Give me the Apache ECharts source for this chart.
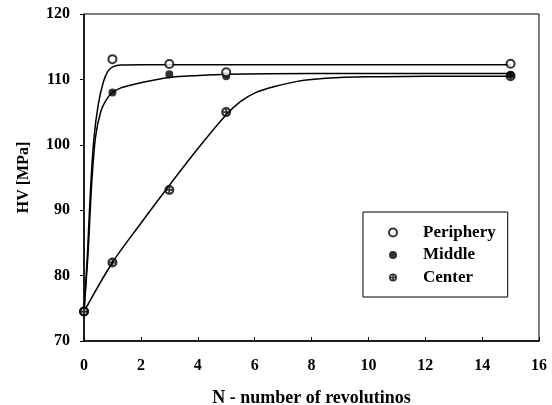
<!DOCTYPE html>
<html>
<head>
<meta charset="utf-8">
<script src="https://cdn.jsdelivr.net/npm/echarts@6/dist/echarts.min.js"></script>
<style>
html,body{margin:0;padding:0;background:#fff;}
#chart{width:552px;height:405px;}
</style>
</head>
<body>
<div id="chart"></div>
<script>
// Measured points
const revolutions = [0, 1, 3, 5, 15];
const periphery = [74.5, 113.1, 112.35, 111.1, 112.4];
const middle = [74.5, 108.0, 110.8, 110.5, 110.7];
const center = [74.5, 82.0, 93.1, 105.0, 110.5];

// Fitted curves as [N, HV] pairs
const peripheryFitX = [0, 0.12, 0.23, 0.35, 0.5, 0.68, 0.85, 1.03, 1.3, 2, 15];
const peripheryFitY = [74.5, 83.2, 93.3, 101.0, 106.1, 109.6, 111.3, 111.95, 112.2, 112.25, 112.25];
const middleFitX = [0, 0.14, 0.26, 0.4, 0.59, 0.8, 1, 1.3, 1.62, 2, 3, 4, 5, 8, 15];
const middleFitY = [74.5, 83.2, 93.3, 101.0, 105.1, 107.0, 108.0, 108.7, 109.1, 109.5, 110.3, 110.6, 110.8, 110.9, 110.9];
const centerFitX = [0, 1, 2, 3, 4, 5, 5.5, 6, 6.7, 7.5, 8, 9, 10, 12, 15];
const centerFitY = [74.5, 82.0, 88.0, 93.8, 99.4, 104.6, 106.6, 107.9, 108.9, 109.7, 110.0, 110.3, 110.4, 110.5, 110.5];

const xTicks = {min: 0, max: 16, interval: 2};
const yTicks = {min: 70, max: 120, interval: 10};
const seriesNames = ['Periphery', 'Middle', 'Center'];

function pairs(xs, ys) { return xs.map((x, i) => [x, ys[i]]); }

const crossCircle = 'path://M0,5 A5,5 0 1,1 10,5 A5,5 0 1,1 0,5 Z M2.2,5 A2.8,2.8 0 1,0 7.8,5 A2.8,2.8 0 1,0 2.2,5 Z M1.5,4.1 H8.5 V5.9 H1.5 Z M4.1,1.5 H5.9 V8.5 H4.1 Z';

const fontFam = '"Liberation Serif", "Times New Roman", serif';
const chart = echarts.init(document.getElementById('chart'), null, {renderer: 'canvas'});

function fitSeries(name, xs, ys) {
  return {
    name: name, type: 'line', data: pairs(xs, ys),
    smooth: 0.3, showSymbol: false, symbol: 'none',
    lineStyle: {color: '#000', width: 1.5}, z: 2, silent: true
  };
}

chart.setOption({
  animation: false,
  backgroundColor: '#fff',
  grid: {left: 84, right: 13, top: 14, bottom: 64, show: true, borderColor: '#000', borderWidth: 1,
         containLabel: false, outerBoundsMode: 'none'},
  xAxis: {
    type: 'value', min: xTicks.min, max: xTicks.max, interval: xTicks.interval,
    name: 'N - number of revolutinos', nameLocation: 'middle', nameGap: 48,
    nameTextStyle: {fontFamily: fontFam, fontWeight: 'bold', fontSize: 18, color: '#000'},
    axisLine: {lineStyle: {color: '#000', width: 1.5}},
    axisTick: {inside: true, length: 4, lineStyle: {color: '#000'}},
    axisLabel: {fontFamily: fontFam, fontWeight: 'bold', fontSize: 16, color: '#000', margin: 17},
    splitLine: {show: false}
  },
  yAxis: {
    type: 'value', min: yTicks.min, max: yTicks.max, interval: yTicks.interval,
    name: 'HV [MPa]', nameLocation: 'middle', nameGap: 52,
    nameTextStyle: {fontFamily: fontFam, fontWeight: 'bold', fontSize: 16, color: '#000'},
    axisLine: {show: true, lineStyle: {color: '#000', width: 1.5}},
    axisTick: {show: true, inside: false, length: 4, lineStyle: {color: '#000'}},
    axisLabel: {fontFamily: fontFam, fontWeight: 'bold', fontSize: 16, color: '#000', margin: 14},
    splitLine: {show: false}
  },
  legend: {
    data: seriesNames,
    orient: 'vertical', left: 363, top: 212,
    borderColor: '#000', borderWidth: 1, borderRadius: 0,
    padding: [12, 12, 11, 25],
    itemWidth: 50, itemHeight: 8, itemGap: 5.5,
    textStyle: {fontFamily: fontFam, fontWeight: 'bold', fontSize: 17, color: '#000', lineHeight: 15},
    selectedMode: false
  },
  series: [
    fitSeries('Periphery fit', peripheryFitX, peripheryFitY),
    fitSeries('Middle fit', middleFitX, middleFitY),
    fitSeries('Center fit', centerFitX, centerFitY),
    {
      name: seriesNames[0], type: 'scatter', data: pairs(revolutions, periphery),
      symbol: 'emptyCircle', symbolSize: 8,
      itemStyle: {color: '#000', borderColor: '#000', borderWidth: 1.6}, z: 4
    },
    {
      name: seriesNames[1], type: 'scatter', data: pairs(revolutions, middle),
      symbol: 'circle', symbolSize: 8,
      itemStyle: {color: '#000'}, z: 3
    },
    {
      name: seriesNames[2], type: 'scatter', data: pairs(revolutions, center),
      symbol: crossCircle, symbolSize: 10, symbolKeepAspect: true,
      itemStyle: {color: '#000'}, z: 5
    }
  ]
});
</script>
</body>
</html>
